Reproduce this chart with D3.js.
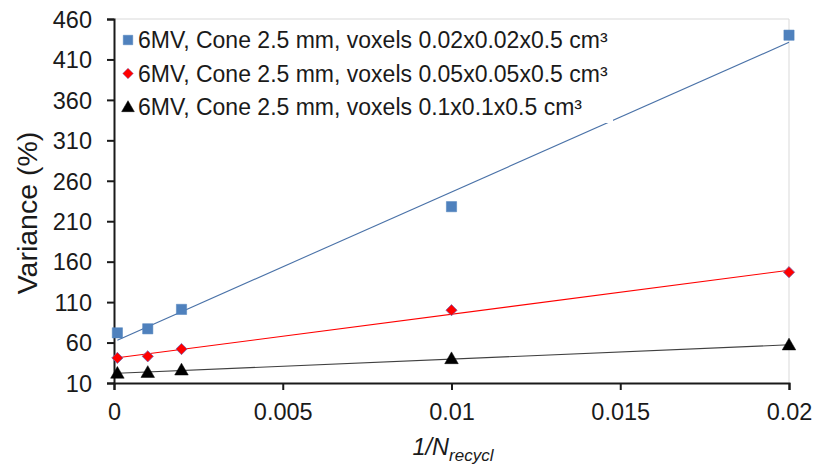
<!DOCTYPE html>
<html><head><meta charset="utf-8">
<script src="https://cdn.jsdelivr.net/npm/d3@7"></script>
<style>body{margin:0;background:#fff;}svg{display:block;font-family:"Liberation Sans",Arial,sans-serif;}</style>
</head><body>
<svg id="c" width="816" height="468"></svg>
<script>
const xValues = [0.0001, 0.001, 0.002, 0.01, 0.02];
const seriesNames = [
  "6MV, Cone 2.5 mm, voxels 0.02x0.02x0.5 cm³",
  "6MV, Cone 2.5 mm, voxels 0.05x0.05x0.5 cm³",
  "6MV, Cone 2.5 mm, voxels 0.1x0.1x0.5 cm³"
];
const blueValues = [72, 77, 101, 228, 440];
const redValues = [41, 43, 52, 100, 147];
const blackValues = [22, 23, 26, 40, 57];
const yTicks = [10, 60, 110, 160, 210, 260, 310, 360, 410, 460];
const xTicks = [0, 0.005, 0.01, 0.015, 0.02];
const xTickLabels = ["0", "0.005", "0.01", "0.015", "0.02"];

const series = [
  {name: seriesNames[0], values: blueValues, fill: "#4f81bd", stroke: "#4f81bd", line: "#4a72a8", shape: "square"},
  {name: seriesNames[1], values: redValues, fill: "#ff0000", stroke: "#7a5fa8", line: "#ff0000", shape: "diamond"},
  {name: seriesNames[2], values: blackValues, fill: "#000000", stroke: "#000000", line: "#404040", shape: "triangle"}
];

const svg = d3.select("#c");
const L = 114, R = 789, T = 19, B = 383;
const x = d3.scaleLinear().domain([0, 0.02]).range([L, R]);
const y = d3.scaleLinear().domain([10, 460]).range([B, T]);

// plot border (light)
svg.append("path").attr("d", `M${L},${T}H${R}V${B}`).attr("fill","none").attr("stroke","#d9d9d9").attr("stroke-width",1);

function fit(xs, ys){
  const n = xs.length, mx = d3.mean(xs), my = d3.mean(ys);
  let sxy = 0, sxx = 0;
  for (let i=0;i<n;i++){ sxy += (xs[i]-mx)*(ys[i]-my); sxx += (xs[i]-mx)**2; }
  const b = sxy/sxx; return {b, a: my - b*mx};
}

const lineG = svg.append("g");
series.forEach(s => {
  const f = fit(xValues, s.values);
  const x0 = d3.min(xValues), x1 = d3.max(xValues);
  lineG.append("line")
    .attr("x1", x(x0)).attr("y1", y(f.a + f.b*x0))
    .attr("x2", x(x1)).attr("y2", y(f.a + f.b*x1))
    .attr("stroke", s.line).attr("stroke-width", 1.1);
});

function symbolPath(shape, size){
  const t = {square: d3.symbolSquare, diamond: d3.symbolDiamond2 || d3.symbolDiamond, triangle: d3.symbolTriangle}[shape];
  return d3.symbol().type(t).size(size)();
}
const sizes = {square: 105, diamond: 80, triangle: 80};

// legend background
svg.append("rect").attr("x", 118).attr("y", 22).attr("width", 495).attr("height", 101).attr("fill", "#fff");

const ptG = svg.append("g");
series.forEach(s => {
  ptG.selectAll(null).data(xValues.map((d,i)=>[d, s.values[i]])).join("path")
    .attr("d", symbolPath(s.shape, sizes[s.shape]))
    .attr("transform", d => `translate(${x(d[0])},${y(d[1]) + (s.shape==="triangle"?1:0)})`)
    .attr("fill", s.fill).attr("stroke", s.stroke).attr("stroke-width", s.shape==="diamond"?0.8:0.5);
});

// axes
const yAxis = d3.axisLeft(y).tickValues(yTicks).tickSize(7).tickPadding(15).tickFormat(d3.format("d"));
const gy = svg.append("g").attr("transform", `translate(${L},0)`).call(yAxis);
const xAxis = d3.axisBottom(x).tickValues(xTicks).tickSize(7).tickPadding(13).tickFormat((d,i)=>xTickLabels[i]);
const gx = svg.append("g").attr("transform", `translate(0,${B})`).call(xAxis);
[gx, gy].forEach(g => {
  g.select(".domain").attr("stroke", "#1a1a1a").attr("stroke-width", 2);
  g.selectAll(".tick line").attr("stroke", "#1a1a1a").attr("stroke-width", 2);
  g.selectAll(".tick text").attr("fill", "#1a1a1a").style("font-size", "23.5px").style("font-family", '"Liberation Sans",Arial,sans-serif');
});
gy.selectAll(".tick text").attr("dy", "0.35em");
// redraw points over axis near x=0
ptG.raise();

// legend
const lg = svg.append("g");
series.forEach((s, i) => {
  const cy = 40 + i*33.5;
  lg.append("path").attr("d", symbolPath(s.shape, s.shape==="square"?90:70))
    .attr("transform", `translate(128,${cy + (s.shape==="triangle"?1:0)})`)
    .attr("fill", s.fill).attr("stroke", s.stroke).attr("stroke-width", 0.5);
  lg.append("text").attr("x", 138).attr("y", cy).attr("dy", "0.35em")
    .style("font-size", "23px").attr("fill", "#1a1a1a").text(s.name);
});

// axis titles
svg.append("text").attr("transform", "translate(37,213) rotate(-90)")
  .attr("text-anchor", "middle").style("font-size", "28.5px").attr("fill", "#1a1a1a").text("Variance (%)");
const xt = svg.append("text").attr("x", 453).attr("y", 455).attr("text-anchor", "middle")
  .style("font-size", "23.5px").style("font-style", "italic").attr("fill", "#1a1a1a");
xt.append("tspan").text("1/N");
xt.append("tspan").attr("dy", 6).style("font-size", "17px").text("recycl");
</script>
</body></html>
